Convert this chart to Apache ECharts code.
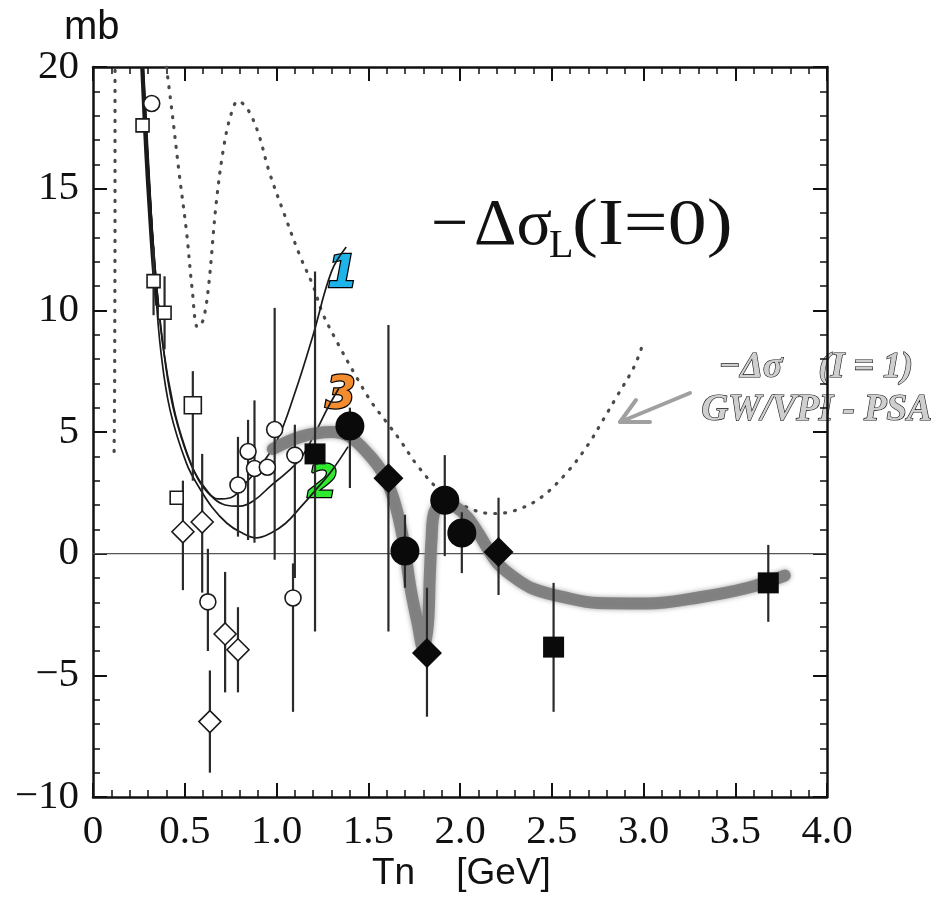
<!DOCTYPE html>
<html>

<head>
    <meta charset="UTF-8">
    <title>-Δσ_L (I=0)</title>
    <style>
        body { margin: 0; background: #fff; }
    </style>
</head>

<script src="https://cdn.jsdelivr.net/npm/echarts@6.0.0/dist/echarts.min.js"></script>

<body>
    <div id="sigmaBox" style="width: 936px;height:902px;"></div>

    <script>
        // axis ticks
        var xTicks = [0, 0.5, 1.0, 1.5, 2.0, 2.5, 3.0, 3.5, 4.0];
        var yTicks = [-10, -5, 0, 5, 10, 15, 20];

        // -Δσ (I=1) GW/VPI - PSA, dotted
        var psaLeft = [[0.115, 4.2], [0.118, 7], [0.12, 13], [0.12, 20]];
        var psaMain = [[0.40, 20], [0.43, 18.2], [0.47, 15.6], [0.51, 13.2], [0.54, 10.9], [0.57, 9.3],
            [0.60, 9.6], [0.63, 11.0], [0.67, 14.3], [0.71, 16.6], [0.75, 18.0], [0.79, 18.6], [0.84, 18.3],
            [0.90, 17.3], [0.96, 15.7], [1.04, 14.0], [1.13, 12.2], [1.20, 11.0], [1.25, 9.9], [1.33, 8.7],
            [1.44, 7.2], [1.52, 6.2], [1.60, 5.4], [1.67, 4.7], [1.77, 3.6], [1.89, 2.6], [2.04, 1.9],
            [2.17, 1.65], [2.29, 1.75], [2.44, 2.3], [2.59, 3.4], [2.70, 4.5], [2.78, 5.5], [2.85, 6.4],
            [2.95, 7.7], [3.00, 8.7]];

        // thin model curves 1, 2, 3
        var curve1 = [[0.27, 20], [0.30, 16], [0.33, 12.5], [0.37, 9.3], [0.42, 6.6], [0.48, 4.8], [0.55, 3.4],
            [0.62, 2.6], [0.68, 2.25], [0.75, 2.3], [0.82, 2.8], [0.90, 3.5], [1.00, 4.6], [1.10, 6.6],
            [1.20, 9.0], [1.30, 11.6], [1.38, 12.6]];
        var curve2 = [[0.275, 20], [0.31, 15], [0.34, 11], [0.37, 8.3], [0.42, 5.9], [0.51, 3.7], [0.58, 2.7],
            [0.65, 1.9], [0.73, 1.25], [0.80, 0.9], [0.89, 0.65], [0.97, 0.85], [1.05, 1.25], [1.13, 1.9],
            [1.20, 2.5], [1.30, 3.4], [1.39, 4.4]];
        var curve3 = [[0.272, 20], [0.305, 15.5], [0.34, 11.6], [0.38, 8.6], [0.44, 6.0], [0.50, 4.4], [0.57, 3.1],
            [0.64, 2.4], [0.72, 2.0], [0.80, 1.95], [0.88, 2.2], [0.97, 2.8], [1.05, 3.3], [1.13, 3.9],
            [1.20, 4.8], [1.28, 6.0], [1.34, 6.8]];
        // heavy steep part where the curves meet
        var steepPart = [[0.268, 20], [0.29, 16.5], [0.31, 14], [0.33, 11.8], [0.35, 10.2]];

        // thick grey band
        var band = [[0.98, 4.3], [1.13, 4.8], [1.30, 5.0], [1.40, 4.8], [1.50, 4.1], [1.58, 3.3], [1.64, 2.2],
            [1.69, 0.6], [1.73, -1.4], [1.77, -2.9], [1.80, -3.9], [1.825, -2.9], [1.835, -1.0], [1.845, 0.6],
            [1.86, 1.7], [1.91, 2.1], [1.97, 1.95], [2.04, 1.5], [2.10, 0.85], [2.20, -0.35], [2.30, -1.0],
            [2.40, -1.45], [2.57, -1.8], [2.75, -2.03], [3.02, -2.05], [3.30, -1.8], [3.57, -1.4], [3.77, -0.9]];

        var zeroLine = [[0, 0], [4, 0]];

        // data points
        var openSquaresSmall = [[0.27, 17.6], [0.33, 11.2], [0.39, 9.9], [0.456, 2.3]];
        var openSquaresLarge = [[0.544, 6.1]];
        var openCircles = [[0.32, 18.5], [0.79, 2.82], [0.845, 4.2], [0.88, 3.5], [0.95, 3.55], [0.99, 5.1],
            [1.10, 4.05], [0.626, -1.98], [1.09, -1.82]];
        var openDiamonds = [[0.49, 0.9], [0.595, 1.3], [0.72, -3.3], [0.79, -3.95], [0.637, -6.9]];
        var filledSquares = [[1.21, 4.1], [2.51, -3.84], [3.68, -1.2]];
        var filledCircles = [[1.40, 5.25], [1.70, 0.11], [1.917, 2.2], [2.01, 0.85]];
        var filledDiamonds = [[1.61, 3.1], [1.82, -4.08], [2.21, 0.07]];

        // error bars [x, low, high]
        var errBars = [[0.33, 9.8, 12.6], [0.39, 8.4, 11.4], [0.49, -1.5, 3.0], [0.544, 3.0, 7.5],
            [0.595, -1.6, 4.1], [0.626, -4.0, 0.2], [0.637, -9.0, -4.8], [0.72, -5.7, -0.75],
            [0.79, -5.7, -2.2], [0.79, 0.7, 4.8], [0.845, 0.56, 5.5], [0.88, 0.45, 6.3],
            [0.99, -0.25, 10.1], [1.10, -1.0, 5.3], [1.09, -6.5, -0.4], [1.21, -3.2, 11.6],
            [1.40, 2.7, 6.0], [1.61, -3.2, 9.4], [1.70, -1.4, 1.6], [1.82, -6.7, -1.4],
            [1.917, -0.1, 4.05], [2.01, -0.8, 1.7], [2.21, -1.7, 2.3], [2.51, -6.5, -1.2],
            [3.68, -2.8, 0.36]];

        $ready(function () {
            sigmaChart('sigmaBox');
        });

        function $ready(fn) {
            if (document.readyState !== 'loading') fn();
            else document.addEventListener('DOMContentLoaded', fn);
        }

        function sigmaChart(idname) {
            var myChart = echarts.init(document.getElementById(idname));

            var serif = 'Liberation Serif';
            var ink = '#111';

            function xAxisOf(pos) {
                return {
                    type: 'value',
                    position: pos,
                    min: xTicks[0],
                    max: xTicks[xTicks.length - 1],
                    interval: xTicks[1] - xTicks[0],
                    axisLine: { show: true, onZero: false, lineStyle: { color: ink, width: 2.5 } },
                    axisTick: { show: true, inside: true, length: 14, lineStyle: { color: ink, width: 2 } },
                    minorTick: { show: true, splitNumber: 5, length: 7, lineStyle: { color: ink, width: 1.5 } },
                    splitLine: { show: false },
                    axisLabel: {
                        show: pos === 'bottom',
                        margin: 15,
                        fontFamily: serif,
                        fontSize: 41,
                        color: ink,
                        formatter: function (v) {
                            return v === 0 ? '0' : v.toFixed(1);
                        }
                    }
                };
            }

            function yAxisOf(pos) {
                return {
                    type: 'value',
                    position: pos,
                    min: yTicks[0],
                    max: yTicks[yTicks.length - 1],
                    interval: yTicks[1] - yTicks[0],
                    axisLine: { show: true, onZero: false, lineStyle: { color: ink, width: 2.5 } },
                    axisTick: { show: true, inside: true, length: 14, lineStyle: { color: ink, width: 2 } },
                    minorTick: { show: true, splitNumber: 5, length: 7, lineStyle: { color: ink, width: 1.5 } },
                    splitLine: { show: false },
                    axisLabel: {
                        show: pos === 'left',
                        margin: 14,
                        fontFamily: serif,
                        fontSize: 41,
                        color: ink,
                        formatter: function (v) {
                            return String(v).replace('-', '\u2212');
                        }
                    }
                };
            }

            function thinLine(data, width) {
                return {
                    type: 'line', data: data, smooth: 0.4, symbol: 'none', silent: true, z: 3,
                    lineStyle: { color: '#1a1a1a', width: width || 1.7 }
                };
            }

            function dotted(data, smooth) {
                return {
                    type: 'line', data: data, smooth: smooth, symbol: 'none', silent: true, z: 2,
                    lineStyle: { color: '#4a4a4a', width: 3.2, type: [1, 9], cap: 'round' }
                };
            }

            function markers(data, symbol, size, fill) {
                return {
                    type: 'scatter', data: data, symbol: symbol, symbolSize: size, z: 6,
                    itemStyle: { color: fill, borderColor: '#1a1a1a', borderWidth: fill === '#fff' ? 1.6 : 0, opacity: 1 }
                };
            }

            var outlined = { fill: '#cfcfcf', stroke: '#111', lineWidth: 1.2 };

            var option = {
                animation: false,
                backgroundColor: '#fff',
                grid: { left: 93, right: 109, top: 67, bottom: 105 },
                xAxis: [xAxisOf('bottom'), xAxisOf('top')],
                yAxis: [yAxisOf('left'), yAxisOf('right')],
                series: [
                    // y = 0 line
                    {
                        type: 'line', data: zeroLine, symbol: 'none', silent: true, z: 1,
                        lineStyle: { color: '#555', width: 1.3 }
                    },
                    dotted(psaLeft, false),
                    dotted(psaMain, 0.35),
                    thinLine(curve1),
                    thinLine(curve2),
                    thinLine(curve3),
                    thinLine(steepPart, 4),
                    // grey band
                    {
                        type: 'line', data: band, smooth: 0.35, symbol: 'none', silent: true, z: 4,
                        lineStyle: {
                            color: 'rgba(125,125,125,0.92)', width: 12, cap: 'round', join: 'round',
                            shadowBlur: 5, shadowColor: 'rgba(110,110,110,0.7)'
                        }
                    },
                    // error bars
                    {
                        type: 'custom',
                        data: errBars,
                        encode: { x: 0, y: [1, 2] },
                        z: 5,
                        renderItem: function (params, api) {
                            var x = api.value(0);
                            var p1 = api.coord([x, api.value(1)]);
                            var p2 = api.coord([x, api.value(2)]);
                            return {
                                type: 'line',
                                shape: { x1: p1[0], y1: p1[1], x2: p2[0], y2: p2[1] },
                                style: { stroke: '#2a2a2a', lineWidth: 2.2 }
                            };
                        }
                    },
                    markers(openSquaresSmall, 'rect', 13, '#fff'),
                    markers(openSquaresLarge, 'rect', 17, '#fff'),
                    markers(openCircles, 'circle', 16, '#fff'),
                    markers(openDiamonds, 'diamond', 22, '#fff'),
                    markers(filledSquares, 'rect', 21, '#0a0a0a'),
                    markers(filledCircles, 'circle', 29, '#0a0a0a'),
                    markers(filledDiamonds, 'diamond', 30, '#0a0a0a')
                ],
                graphic: [
                    // axis names
                    { type: 'text', left: 64, top: 8, style: { text: 'mb', font: '40px "Liberation Sans"', fill: ink } },
                    { type: 'text', left: 372, top: 855, style: { text: 'Tn    [GeV]', font: '37px "Liberation Sans"', fill: ink } },

                    // title -Δσ_L(I=0)
                    { type: 'text', left: 431, top: 194, style: { text: '\u2212', font: '66px "Liberation Serif"', fill: ink } },
                    { type: 'text', left: 474, top: 194, style: { text: '\u0394\u03c3', font: '66px "Liberation Serif"', fill: ink } },
                    { type: 'text', left: 549, top: 226, style: { text: 'L', font: '40px "Liberation Serif"', fill: ink } },
                    {
                        type: 'text', left: 572, top: 194, scaleX: 1.18,
                        style: { text: '(I=0)', font: '66px "Liberation Serif"', fill: ink }
                    },

                    // I=1 annotation
                    {
                        type: 'text', left: 718, top: 349,
                        style: Object.assign({ text: '\u2212\u0394\u03c3    (I = 1)', font: 'italic bold 36px "Liberation Serif"' }, outlined)
                    },
                    {
                        type: 'text', left: 701, top: 391,
                        style: Object.assign({ text: 'GW/VPI - PSA', font: 'italic bold 37px "Liberation Serif"' }, outlined)
                    },
                    {
                        type: 'polyline',
                        shape: { points: [[690, 393], [620, 422]] },
                        style: { stroke: '#a0a0a0', lineWidth: 4, lineCap: 'round' }
                    },
                    {
                        type: 'polyline',
                        shape: { points: [[636, 400], [620, 422], [650, 422]] },
                        style: { stroke: '#a0a0a0', lineWidth: 4, lineCap: 'round', lineJoin: 'round', fill: null }
                    },

                    // curve numbers
                    {
                        type: 'text', left: 326, top: 252,
                        style: { text: '1', font: 'italic bold 44px "DejaVu Sans"', fill: '#1eb4ea', stroke: '#000', lineWidth: 2.5 }
                    },
                    {
                        type: 'text', left: 324, top: 373,
                        style: { text: '3', font: 'italic bold 44px "DejaVu Sans"', fill: '#f28c2e', stroke: '#000', lineWidth: 2.5 }
                    },
                    {
                        type: 'text', left: 306, top: 462,
                        style: { text: '2', font: 'italic bold 44px "DejaVu Sans"', fill: '#2fea2f', stroke: '#000', lineWidth: 2.5 }
                    }
                ]
            };

            myChart.setOption(option);
        }
    </script>

</body>

</html>
